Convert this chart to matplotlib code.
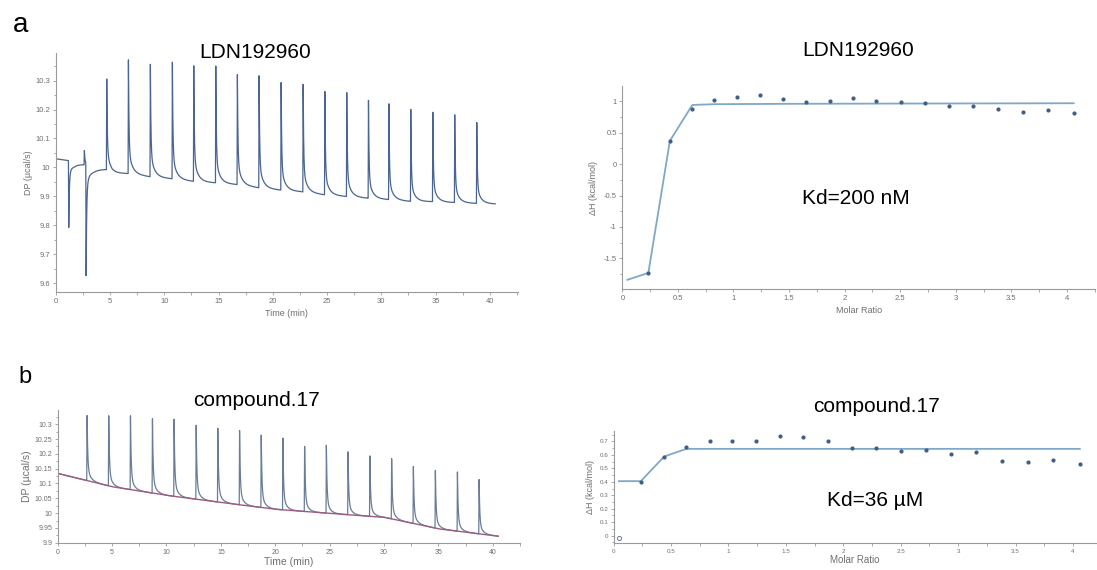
import numpy as np
import matplotlib.pyplot as plt
from matplotlib.ticker import MultipleLocator, FuncFormatter

plt.rcParams['font.family'] = ['Liberation Sans', 'DejaVu Sans']

# ---- panel a, raw thermogram (LDN192960) ----
a_base_t = [0, 1.15, 1.7, 2.6, 3.5, 4.65, 5.2, 6.65, 8.65, 10.65, 12.65, 14.65, 16.65,
            18.65, 20.65, 22.65, 24.65, 26.65, 28.65, 30.65, 32.65, 34.65, 36.65, 38.65, 40.5]
a_base_v = [10.03, 10.024, 10.012, 10.01, 9.992, 9.993, 9.98, 9.979, 9.968, 9.961, 9.952,
            9.947, 9.941, 9.93, 9.922, 9.916, 9.906, 9.9, 9.894, 9.889, 9.883, 9.882, 9.879,
            9.876, 9.874]
a_inj_t = [1.2, 2.64, 2.8, 4.7, 6.7, 8.72, 10.75, 12.72, 14.75, 16.74, 18.74, 20.77, 22.8,
           24.8, 26.82, 28.82, 30.7, 32.72, 34.75, 36.77, 38.8]
a_inj_y = [9.787, 10.06, 9.609, 10.315, 10.372, 10.367, 10.365, 10.36, 10.35, 10.329, 10.322,
           10.302, 10.287, 10.271, 10.258, 10.24, 10.228, 10.2, 10.2, 10.183, 10.165]

# ---- panel a, integrated heats ----
a_mr = [0.234, 0.428, 0.626, 0.827, 1.034, 1.237, 1.444, 1.651, 1.864, 2.073, 2.286, 2.505,
        2.72, 2.94, 3.15, 3.38, 3.60, 3.83, 4.06]
a_dh = [-1.73, 0.36, 0.88, 1.02, 1.07, 1.10, 1.03, 0.98, 1.01, 1.05, 1.01, 0.98, 0.97, 0.93,
        0.93, 0.87, 0.83, 0.86, 0.81]
a_fit_x = [0.045, 0.234, 0.428, 0.63, 0.83, 1.5, 2.5, 3.5, 4.06]
a_fit_y = [-1.84, -1.73, 0.37, 0.94, 0.952, 0.958, 0.962, 0.965, 0.967]

# ---- panel b, raw thermogram (compound.17) ----
b_base_t = [0, 1.2, 2.7, 5, 10, 15, 20, 25, 30, 35, 40.5]
b_base_v = [10.134, 10.123, 10.11, 10.089, 10.06, 10.036, 10.013, 9.999, 9.986, 9.947, 9.922]
b_inj_t = [2.7, 4.69, 6.69, 8.71, 10.7, 12.73, 14.72, 16.72, 18.71, 20.7, 22.7, 24.7, 26.69,
           28.7, 30.7, 32.7, 34.72, 36.75, 38.74]
b_inj_y = [10.33, 10.334, 10.33, 10.324, 10.32, 10.302, 10.29, 10.283, 10.27, 10.255, 10.232,
           10.23, 10.212, 10.193, 10.188, 10.159, 10.148, 10.139, 10.117]

# ---- panel b, integrated heats ----
b_mr = [0.237, 0.44, 0.633, 0.835, 1.035, 1.237, 1.445, 1.653, 1.864, 2.072, 2.283, 2.503,
        2.72, 2.936, 3.159, 3.378, 3.607, 3.83, 4.058]
b_dh = [0.402, 0.586, 0.658, 0.702, 0.707, 0.705, 0.742, 0.73, 0.70, 0.653, 0.653, 0.63,
        0.633, 0.606, 0.62, 0.556, 0.551, 0.561, 0.536]
b_excl_mr = [0.046]
b_excl_dh = [-0.02]
b_fit_x = [0.046, 0.237, 0.44, 0.633, 4.06]
b_fit_y = [0.405, 0.405, 0.588, 0.645, 0.645]


def thermogram(base_t, base_v, inj_t, inj_y, tau1, tau2, w1):
    t = np.linspace(0, base_t[-1], 12000)
    base = np.interp(t, base_t, base_v)
    y = base.copy()
    rise = 0.03
    for ti, yi in zip(inj_t, inj_y):
        amp = yi - np.interp(ti, base_t, base_v)
        up = (t >= ti - rise) & (t < ti)
        y[up] += amp * (t[up] - (ti - rise)) / rise
        dn = t >= ti
        dt = t[dn] - ti
        y[dn] += amp * (w1 * np.exp(-dt / tau1) + (1 - w1) * np.exp(-dt / tau2))
    return t, y, base


gfmt = FuncFormatter(lambda v, p: '%g' % round(v, 4))
tick_col = '#6f6f6f'
spine_col = '#9a9a9a'


def style(ax, fs):
    for s in ['top', 'right']:
        ax.spines[s].set_visible(False)
    for s in ['left', 'bottom']:
        ax.spines[s].set_color(spine_col)
        ax.spines[s].set_linewidth(0.8)
    ax.tick_params(which='both', colors=spine_col, labelcolor=tick_col, labelsize=fs,
                   direction='out', width=0.6, pad=1.5)
    ax.tick_params(which='major', length=2.5)
    ax.tick_params(which='minor', length=1.8)
    ax.xaxis.set_major_formatter(gfmt)
    ax.yaxis.set_major_formatter(gfmt)


fig = plt.figure(figsize=(10.97, 5.70), dpi=100)

# a, left
ax1 = fig.add_axes([0.0508, 0.4877, 0.4214, 0.4193])
t, y, _ = thermogram(a_base_t, a_base_v, a_inj_t, a_inj_y, 0.05, 0.35, 0.8)
ax1.plot(t, y, color='#4a6591', lw=0.9)
ax1.set_xlim(0, 42.6)
ax1.set_ylim(9.57, 10.395)
ax1.xaxis.set_major_locator(MultipleLocator(5))
ax1.xaxis.set_minor_locator(MultipleLocator(2.5))
ax1.yaxis.set_major_locator(MultipleLocator(0.1))
ax1.yaxis.set_minor_locator(MultipleLocator(0.05))
style(ax1, 5.5)
ax1.set_xlabel('Time (min)', fontsize=6.5, color=tick_col, labelpad=3)
ax1.set_ylabel('DP (µcal/s)', fontsize=6.5, color=tick_col, labelpad=2)

# a, right
ax2 = fig.add_axes([0.5673, 0.4925, 0.4307, 0.3565])
ax2.plot(a_fit_x, a_fit_y, color='#7fa8c8', lw=1.3)
ax2.plot(a_mr, a_dh, 'o', ms=2, color='#3f5d86', mec='#3f5d86')
ax2.set_xlim(0, 4.25)
ax2.set_ylim(-1.99, 1.24)
ax2.xaxis.set_major_locator(MultipleLocator(0.5))
ax2.xaxis.set_minor_locator(MultipleLocator(0.25))
ax2.yaxis.set_major_locator(MultipleLocator(0.5))
ax2.yaxis.set_minor_locator(MultipleLocator(0.25))
style(ax2, 5.5)
ax2.set_xlabel('Molar Ratio', fontsize=6.5, color=tick_col, labelpad=3)
ax2.set_ylabel('ΔH (kcal/mol)', fontsize=6.5, color=tick_col, labelpad=4)

# b, left
ax3 = fig.add_axes([0.0526, 0.0468, 0.4214, 0.2339])
t, y, base = thermogram(b_base_t, b_base_v, b_inj_t, b_inj_y, 0.06, 0.3, 0.8)
ax3.plot(t, y, color='#6a7d98', lw=0.9)
ax3.plot(t, base, color='#9c5c80', lw=1.0)
ax3.set_xlim(0, 42.5)
ax3.set_ylim(9.898, 10.348)
ax3.xaxis.set_major_locator(MultipleLocator(5))
ax3.xaxis.set_minor_locator(MultipleLocator(2.5))
ax3.yaxis.set_major_locator(MultipleLocator(0.05))
ax3.yaxis.set_minor_locator(MultipleLocator(0.025))
style(ax3, 5)
ax3.set_xlabel('Time (min)', fontsize=7.5, color=tick_col, labelpad=1)
ax3.set_ylabel('DP (µcal/s)', fontsize=7.5, color=tick_col, labelpad=2)

# b, right
ax4 = fig.add_axes([0.5594, 0.0468, 0.4396, 0.1976])
ax4.plot(b_fit_x, b_fit_y, color='#7fa8c8', lw=1.3)
ax4.plot(b_mr, b_dh, 'o', ms=2, color='#3f5d86', mec='#3f5d86')
ax4.plot(b_excl_mr, b_excl_dh, 'o', ms=3, mfc='none', mec='#6a7d98', mew=0.7)
ax4.set_xlim(0, 4.2)
ax4.set_ylim(-0.057, 0.78)
ax4.xaxis.set_major_locator(MultipleLocator(0.5))
ax4.xaxis.set_minor_locator(MultipleLocator(0.25))
ax4.yaxis.set_major_locator(MultipleLocator(0.1))
ax4.yaxis.set_minor_locator(MultipleLocator(0.05))
style(ax4, 4.5)
ax4.set_xlabel('Molar Ratio', fontsize=7, color=tick_col, labelpad=1)
ax4.set_ylabel('ΔH (kcal/mol)', fontsize=6.5, color=tick_col, labelpad=3)

# titles and annotations (pixel positions converted to figure fraction)
W, H = 1097, 570
def ftext(x, y, s, size):
    fig.text(x / W, 1 - y / H, s, fontsize=size, ha='center', va='center', color='black')

ftext(21, 25, 'a', 20)
ftext(25, 377, 'b', 17)
ftext(255, 52, 'LDN192960', 15)
ftext(858, 51, 'LDN192960', 15)
ftext(856, 199, 'Kd=200 nM', 15)
ftext(257, 401, 'compound.17', 15)
ftext(876, 407, 'compound.17', 15)
ftext(875, 500, 'Kd=36 µM', 15)

fig.savefig('out.png', dpi=100)
